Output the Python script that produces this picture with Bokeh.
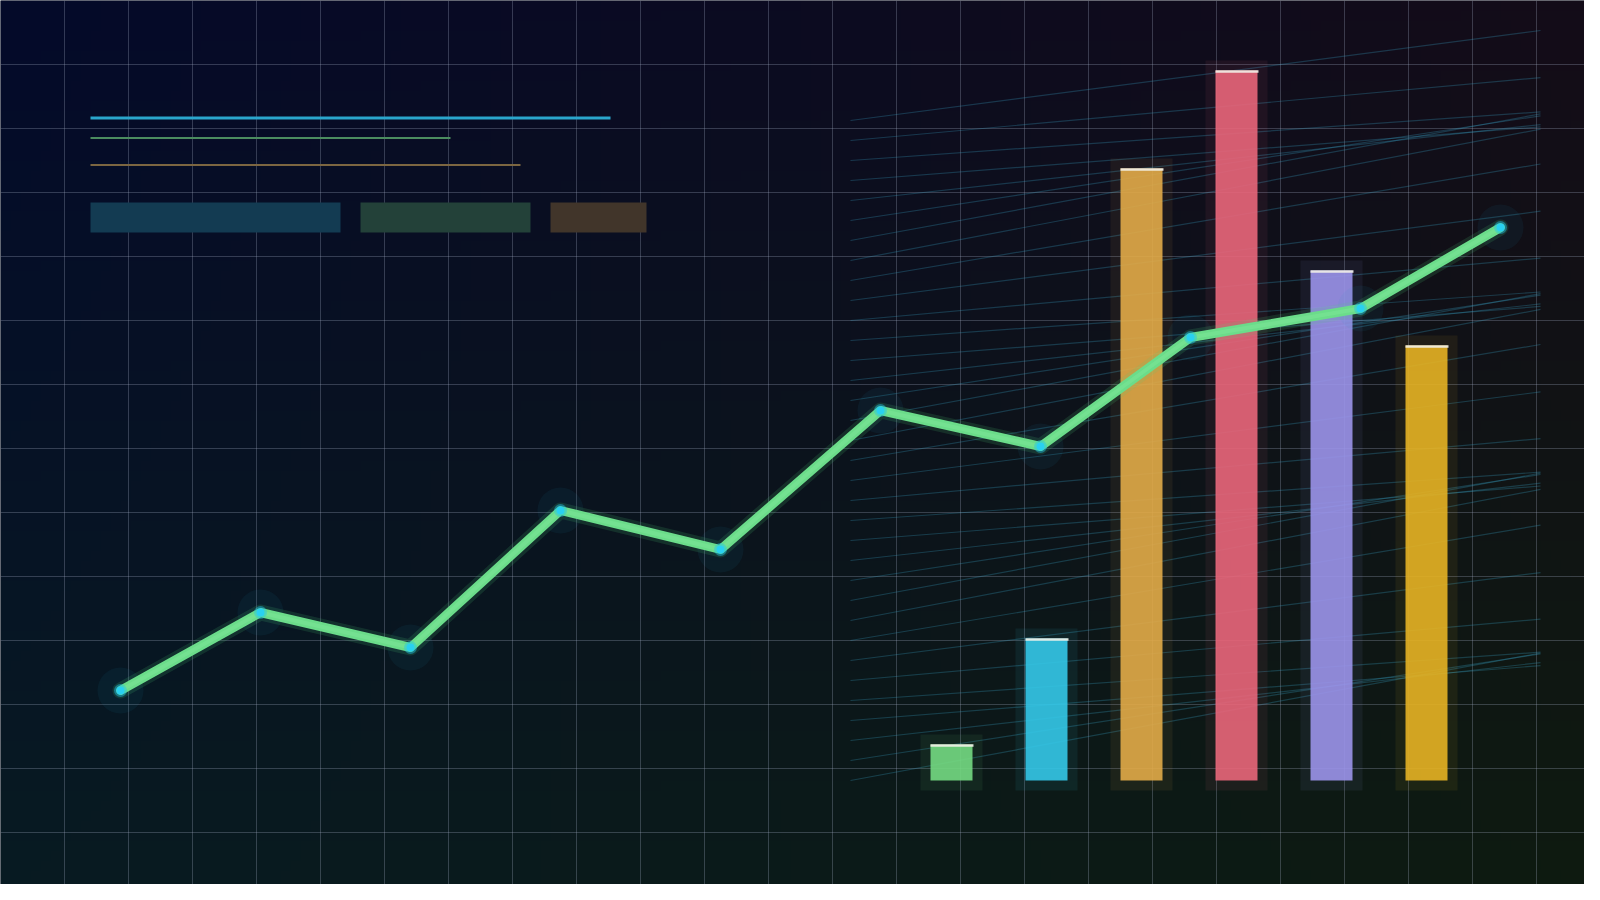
import numpy as np
from bokeh.plotting import figure
from bokeh.models import FixedTicker, Range1d
from bokeh.embed import file_html
from bokeh.resources import INLINE

# ---------------- data (units: canvas units, y measured from the bottom) -------------
line_x = [120, 260, 410, 560, 720, 880, 1040, 1190, 1360, 1500]
line_y = [210, 288, 253, 390, 351, 490, 454, 563, 592, 673]

bar_cats = ["A", "B", "C", "D", "E", "F"]
bar_x = [951, 1046, 1141, 1236, 1331, 1426]
bar_base = 120
bar_top = [156, 262, 732, 830, 630, 555]
bar_colors = ["#74da82", "#34c8e8", "#e2ab48", "#e9667a", "#9b93ea", "#e6b324"]

# decorative header lines / chips
hdr_x0 = [90, 90, 90]
hdr_x1 = [610, 450, 520]
hdr_y = [782.5, 762.5, 735.5]
hdr_colors = ["#2aa6cc", "#4b8c5f", "#7c6641"]
hdr_widths = [3, 2, 2]

chip_left = [90, 360, 550]
chip_right = [340, 530, 646]
chip_colors = ["#133b52", "#234139", "#41352a"]

# perspective hatch lines (left end y / right end y)
hatch_left_y = [780 - 20 * i for i in range(34)]
hatch_right_pix = [30.0, 77.1, 111.4, 126.3, 124.1, 115.3, 113.4, 128.7, 163.5,
                   210.7, 257.6, 291.5, 305.9, 303.4, 294.6, 293.1, 308.9, 344.0,
                   391.4, 438.1, 471.6, 485.5, 482.7, 474.0, 472.7, 488.9, 524.6,
                   572.1, 618.6, 651.7, 665.1, 662.1, 653.3, 652.5]
hatch_right_y = [900 - v for v in hatch_right_pix]

W, H = 1584, 884
p = figure(width=W, height=H, x_range=Range1d(0, 1584), y_range=Range1d(16, 900),
           output_backend="svg", toolbar_location=None, min_border=0,
           background_fill_color="#0a1020", border_fill_color="#0a1020",
           outline_line_color=None)
p.axis.visible = False

# ---------------- background gradient ----------------
GH, GW = 90, 160
tl = np.array([4, 10, 42], float)
tr = np.array([20, 12, 24], float)
bl = np.array([8, 27, 34], float)
br = np.array([14, 27, 16], float)
u = np.linspace(0, 1, GW)[None, :, None]
v = np.linspace(0, 1, GH)[:, None, None]  # row 0 = bottom
bottom = (1 - u) * bl + u * br
top = (1 - u) * tl + u * tr
col = (1 - v) * bottom + v * top
img = np.empty((GH, GW), dtype=np.uint32)
view = img.view(dtype=np.uint8).reshape((GH, GW, 4))
view[:, :, :3] = np.clip(col, 0, 255).astype(np.uint8)
view[:, :, 3] = 255
bg = p.image_rgba(image=[img], x=0, y=0, dw=1600, dh=900)
bg.level = "image"

# ---------------- grid ----------------
p.xgrid.ticker = FixedTicker(ticks=list(range(64, 1600, 64)))
p.ygrid.ticker = FixedTicker(ticks=[900 - 64 * k for k in range(0, 15)])
for g in (p.xgrid, p.ygrid):
    g.grid_line_color = "#a0a8c0"
    g.grid_line_alpha = 0.3
    g.grid_line_width = 1

# ---------------- hatch lines ----------------
p.segment(x0=[850] * len(hatch_left_y), y0=hatch_left_y,
          x1=[1540] * len(hatch_left_y), y1=hatch_right_y,
          line_color="#3aa6c8", line_alpha=0.28, line_width=1.2)

# ---------------- header decoration ----------------
p.segment(x0=hdr_x0, y0=hdr_y, x1=hdr_x1, y1=hdr_y,
          line_color=hdr_colors, line_width=hdr_widths)
p.quad(left=chip_left, right=chip_right, bottom=668, top=698,
       fill_color=chip_colors, line_color=None)

# ---------------- bars ----------------
bx = np.array(bar_x, float)
bt = np.array(bar_top, float)
p.quad(left=bx - 31, right=bx + 31, bottom=bar_base - 10, top=bt + 10,
       fill_color=bar_colors, fill_alpha=0.08, line_color=None)
p.vbar(x=bar_x, width=42, bottom=bar_base, top=bar_top,
       fill_color=bar_colors, fill_alpha=0.9, line_color=None)
p.segment(x0=bx - 21, x1=bx + 22, y0=bt - 1, y1=bt - 1,
          line_color="#f2efe8", line_width=2.5, line_alpha=0.9)

# ---------------- line series ----------------
p.scatter(line_x, line_y, size=46, fill_color="#1aa0c8", fill_alpha=0.07, line_color=None)
p.line(line_x, line_y, line_width=16, line_color="#4fd27a", line_alpha=0.15,
       line_join="round", line_cap="round")
p.line(line_x, line_y, line_width=9, line_color="#6bdc8a", line_alpha=1.0,
       line_join="round", line_cap="round")
p.line(line_x, line_y, line_width=4, line_color="#86ea9f", line_alpha=0.35,
       line_join="round", line_cap="round")
p.scatter(line_x, line_y, size=13, fill_color="#22c7e6", fill_alpha=0.45, line_color=None)
p.scatter(line_x, line_y, size=8, fill_color="#2ad0f0", fill_alpha=1.0, line_color=None)

open("out.html", "w").write(file_html(p, INLINE))
